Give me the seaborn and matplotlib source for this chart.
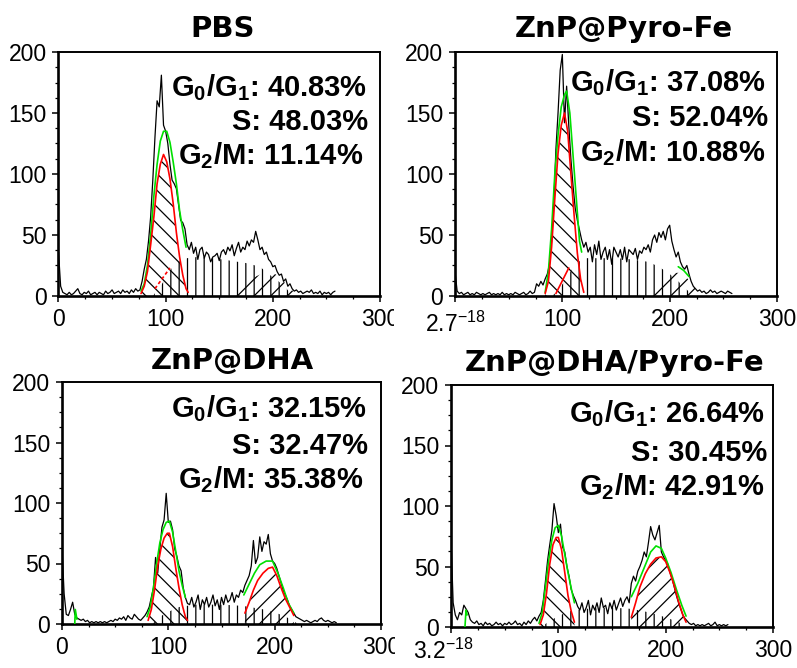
import numpy as np
import pandas as pd
import matplotlib
matplotlib.use("Agg")
import matplotlib.pyplot as plt
from matplotlib.ticker import MultipleLocator
from matplotlib.transforms import Bbox
import seaborn as sns

sns.set_theme(style="ticks")
plt.rcParams["font.family"] = ["Liberation Sans", "DejaVu Sans"]
plt.rcParams["mathtext.fontset"] = "custom"
plt.rcParams["mathtext.rm"] = "Liberation Sans"
plt.rcParams["mathtext.it"] = "Liberation Sans:italic"
plt.rcParams["mathtext.bf"] = "Liberation Sans:bold"
plt.rcParams["hatch.linewidth"] = 0.9
plt.rcParams["hatch.color"] = "black"

# ---------------------------------------------------------------- data
channels = np.arange(0, 260, 2)

titles = ["PBS", "ZnP@Pyro-Fe", "ZnP@DHA", "ZnP@DHA/Pyro-Fe"]
g1_pct = ["40.83", "37.08", "32.15", "26.64"]
s_pct = ["48.03", "52.04", "32.47", "30.45"]
g2_pct = ["11.14", "10.88", "35.38", "42.91"]
first_xtick = ["0", r"2.7$^{-18}$", "0", r"3.2$^{-18}$"]

counts_pbs = [
    36, 8, 3, 2, 1, 3, 1, 2, 4, 6,
    2, 1, 3, 2, 4, 1, 2, 3, 1, 3,
    2, 1, 4, 2, 3, 5, 2, 3, 4, 2,
    5, 3, 4, 2, 5, 3, 6, 4, 5, 12,
    22, 30, 45, 65, 95, 130, 160, 155, 181, 140,
    135, 125, 108, 95, 92, 88, 75, 62, 60, 55,
    42, 38, 44, 35, 40, 30, 38, 40, 31, 36,
    34, 28, 32, 33, 35, 29, 36, 38, 34, 40,
    37, 42, 33, 39, 44, 36, 40, 38, 45, 41,
    46, 44, 53, 46, 38, 40, 34, 36, 30, 28,
    24, 25, 20, 17, 18, 12, 14, 8, 10, 6,
    4, 5, 3, 4, 2, 3, 4, 3, 5, 2,
    3, 2, 4, 1, 3, 2, 3, 1, 3, 4,
]
counts_pyro = [
    20, 4, 2, 3, 1, 2, 3, 1, 2, 1,
    3, 2, 1, 2, 1, 2, 3, 1, 2, 1,
    2, 1, 3, 1, 2, 1, 2, 1, 3, 2,
    1, 2, 3, 1, 2, 4, 2, 3, 10, 8,
    12, 9, 14, 18, 26, 45, 75, 120, 150, 185,
    198, 142, 172, 140, 112, 90, 72, 62, 54, 46,
    40, 44, 36, 40, 28, 42, 34, 45, 30, 36,
    40, 30, 38, 26, 40, 36, 32, 38, 30, 40,
    28, 38, 36, 34, 39, 30, 37, 35, 40, 38,
    42, 36, 46, 50, 44, 52, 48, 53, 46, 55,
    58, 45, 38, 32, 36, 28, 24, 22, 25, 18,
    12, 8, 6, 4, 5, 3, 4, 2, 3, 5,
    3, 4, 2, 3, 4, 3, 2, 4, 3, 2,
]
counts_dha = [
    63, 25, 8, 7, 12, 18, 8, 5, 4, 3,
    4, 2, 3, 1, 2, 1, 2, 1, 2, 1,
    2, 1, 2, 3, 2, 4, 3, 5, 4, 6,
    3, 7, 5, 4, 8, 6, 4, 3, 5, 7,
    10, 14, 22, 30, 55, 42, 62, 80, 86, 108,
    84, 85, 78, 62, 56, 48, 44, 30, 22, 17,
    16, 22, 14, 18, 24, 12, 20, 16, 22, 14,
    18, 24, 15, 20, 12, 22, 16, 24, 18, 20,
    26, 18, 24, 22, 28, 26, 32, 36, 40, 48,
    69, 50, 55, 72, 60, 68, 66, 74, 58, 52,
    50, 46, 40, 34, 28, 24, 20, 15, 12, 9,
    6, 5, 4, 3, 2, 3, 2, 1, 2, 3,
    2, 4, 5, 3, 2, 3, 2, 1, 2, 1,
]
counts_dha_pyro = [
    73, 20, 10, 6, 12, 10, 18, 15, 12, 6,
    4, 3, 5, 2, 3, 1, 4, 2, 3, 1,
    2, 4, 2, 3, 1, 3, 2, 4, 2, 3,
    5, 2, 3, 1, 4, 2, 5, 3, 6, 8,
    5, 9, 12, 22, 38, 55, 68, 80, 102, 92,
    78, 85, 66, 62, 50, 42, 31, 26, 22, 17,
    14, 20, 12, 16, 22, 10, 18, 14, 20, 12,
    24, 16, 18, 11, 20, 15, 22, 14, 19, 24,
    17, 22, 25, 20, 36, 42, 38, 46, 50, 55,
    62, 58, 70, 83, 76, 72, 78, 84, 62, 58,
    55, 52, 45, 40, 33, 26, 20, 15, 10, 7,
    5, 3, 2, 3, 1, 2, 1, 2, 1, 2,
    3, 1, 2, 4, 1, 2, 1, 2, 1, 2,
]

# G0/G1 component (red) and total fit over the G1 peak (green)
g1_x = [
    [77, 80, 83, 86, 89, 92, 95, 98, 101, 104, 107, 110, 113, 116, 119, 121],
    [84, 87, 90, 93, 96, 99, 102, 105, 108, 111, 114, 117, 120],
    [81, 84, 87, 90, 93, 96, 99, 101, 104, 107, 110, 113, 116, 118],
    [83, 86, 89, 92, 95, 98, 100, 103, 106, 109, 112, 115],
]
g1_y = [
    [2, 8, 20, 42, 65, 92, 108, 116, 110, 96, 76, 52, 32, 17, 6, 3],
    [2, 12, 40, 80, 117, 140, 150, 135, 100, 66, 35, 14, 3],
    [3, 12, 28, 48, 62, 71, 75, 75, 64, 46, 30, 16, 6, 3],
    [2, 10, 28, 52, 68, 74, 74, 64, 45, 26, 13, 4],
]
fit1_x = [
    [77, 80, 83, 86, 89, 92, 95, 98, 101, 104, 107, 110, 113, 116, 119],
    [84, 87, 90, 93, 96, 99, 102, 104, 107, 110, 113, 116, 118],
    [80, 83, 86, 89, 92, 95, 98, 101, 104, 107, 110, 113, 116],
    [82, 85, 88, 91, 94, 97, 100, 103, 106, 109, 112, 115],
]
fit1_y = [
    [4, 10, 25, 50, 82, 108, 127, 135, 135, 126, 110, 92, 70, 54, 40],
    [3, 20, 55, 100, 132, 155, 165, 168, 150, 115, 80, 45, 36],
    [6, 14, 30, 50, 67, 78, 84, 85, 76, 60, 44, 32, 22],
    [3, 12, 33, 55, 72, 82, 84, 75, 60, 45, 32, 20],
]

# S-phase component
s_x = [
    [88, 96, 105, 112, 120, 130, 145, 160, 175, 188, 196, 204, 212, 218],
    [90, 96, 104, 112, 120, 135, 150, 165, 180, 190, 200, 208, 215, 222],
    [85, 92, 100, 110, 125, 150, 170, 190, 205, 215, 222],
    [84, 92, 100, 110, 125, 150, 168, 185, 200, 212, 220],
]
s_y = [
    [0, 9, 22, 28, 31, 32, 31, 29, 27, 24, 18, 13, 7, 0],
    [0, 4, 15, 26, 31, 31, 31, 30, 28, 24, 18, 12, 6, 0],
    [0, 6, 10, 14, 16, 16, 15, 12, 8, 4, 0],
    [0, 5, 9, 13, 15, 16, 15, 12, 8, 4, 0],
]
# rising edge of the S-phase fit under the G1 peak
s_edge_x = [[90, 104], [94, 106], [], []]
s_edge_y = [[6, 23], [2, 23], [], []]

# G2/M component
g2_x = [
    [160, 168, 176, 184, 192, 198, 204, 210, 216, 222],
    [172, 180, 188, 196, 204, 210, 216, 222, 228],
    [172, 176, 180, 184, 189, 194, 198, 202, 206, 210, 214, 218],
    [168, 172, 176, 181, 186, 191, 196, 200, 204, 208, 212, 216, 219],
]
g2_y = [
    [2, 6, 11, 16, 19, 20, 17, 12, 6, 2],
    [1, 4, 9, 15, 19, 19, 15, 8, 2],
    [9, 18, 28, 36, 42, 46, 47, 40, 30, 21, 14, 7],
    [8, 20, 33, 44, 52, 57, 58, 54, 45, 34, 21, 10, 4],
]
# total fit over the G2 peak
fit2_x = [
    [],
    [208, 213, 218],
    [171, 176, 181, 186, 192, 198, 203, 208, 213, 218],
    [168, 174, 180, 186, 191, 196, 200, 205, 210, 215, 219],
]
fit2_y = [
    [],
    [24, 21, 16],
    [24, 33, 42, 49, 52, 52, 42, 30, 17, 9],
    [25, 36, 49, 62, 67, 65, 57, 45, 31, 18, 9],
]
# debris fit near the origin
debris_x = [[], [], [12, 12.5, 14], [13, 14, 15]]
debris_y = [[], [], [0, 12, 4], [0, 14, 10]]

counts = [counts_pbs, counts_pyro, counts_dha, counts_dha_pyro]

# ---------------------------------------------------------------- layout (pixels)
W, H = 797, 668
boxes = [(58.5, 52, 380, 296), (455, 52, 777, 296),
         (62, 382, 381, 624), (451, 385, 773, 627)]
title_pos = [(223, 37), (624, 37), (232, 369), (615, 371)]
label_pos = [
    [(367, 96), (368, 130), (363, 164)],
    [(766, 91), (768, 126), (765, 161)],
    [(367, 417), (368, 454), (363, 488)],
    [(765, 422), (767, 461), (764, 495)],
]
origin_label_offset = [None, (0, -16), None, (-8, -12)]
draw_g2_line = [False, False, True, True]
edge_style = ["--", "-", "-", "-"]
column_clip = [394, None, 395, None]

RED = "#ff0000"
GREEN = "#00e000"
TICK_SIZE = 16.5

fig = plt.figure(figsize=(W / 100, H / 100), dpi=100)
fig.patch.set_facecolor("white")

axes = []
for i in range(4):
    l, t, r, b = boxes[i]
    ax = fig.add_axes([l / W, 1 - b / H, (r - l) / W, (b - t) / H])
    ax.set_facecolor("white")
    axes.append(ax)

    # hatched model components
    ax.fill_between(s_x[i], s_y[i], 0, facecolor="none", edgecolor="black",
                    linewidth=0, hatch="||", zorder=1)
    ax.fill_between(g2_x[i], g2_y[i], 0, facecolor="none", edgecolor="black",
                    linewidth=0, hatch="//", zorder=1)
    ax.fill_between(g1_x[i], g1_y[i], 0, facecolor="none", edgecolor="black",
                    linewidth=0, hatch="\\\\", zorder=1)

    # DNA content histogram
    hist = pd.DataFrame({"channel": channels, "count": counts[i]})
    sns.lineplot(data=hist, x="channel", y="count", color="black",
                 linewidth=0.9, ax=ax, zorder=3)

    # fitted curves
    sns.lineplot(x=fit1_x[i], y=fit1_y[i], color=GREEN, linewidth=1.2, ax=ax, zorder=4)
    sns.lineplot(x=g1_x[i], y=g1_y[i], color=RED, linewidth=1.2, ax=ax, zorder=5)
    if s_edge_x[i]:
        if edge_style[i] == "--":
            ax.plot(s_edge_x[i], s_edge_y[i], color=RED, linewidth=1.2,
                    linestyle="--", dashes=(2, 1.5), zorder=5)
        else:
            ax.plot(s_edge_x[i], s_edge_y[i], color=RED, linewidth=1.2, zorder=5)
    if fit2_x[i]:
        sns.lineplot(x=fit2_x[i], y=fit2_y[i], color=GREEN, linewidth=1.2, ax=ax, zorder=4)
    if draw_g2_line[i]:
        sns.lineplot(x=g2_x[i], y=g2_y[i], color=RED, linewidth=1.2, ax=ax, zorder=5)
    if debris_x[i]:
        sns.lineplot(x=debris_x[i], y=debris_y[i], color=GREEN, linewidth=1.2, ax=ax, zorder=4)

    ax.set_xlim(0, 300)
    ax.set_ylim(0, 200)
    ax.set_xlabel("")
    ax.set_ylabel("")
    zero_label = first_xtick[i] if origin_label_offset[i] is None else ""
    ax.set_xticks([0, 100, 200, 300], labels=[zero_label, "100", "200", "300"])
    ax.set_yticks([0, 50, 100, 150, 200])
    ax.xaxis.set_minor_locator(MultipleLocator(25))
    ax.yaxis.set_minor_locator(MultipleLocator(12.5))
    ax.tick_params(which="major", direction="out", length=4.5, width=1.1,
                   color="black", labelcolor="black", labelsize=TICK_SIZE, pad=4)
    ax.tick_params(which="minor", direction="out", length=2.5, width=0.9, color="black")
    for side, lw in (("left", 1.9), ("bottom", 1.9), ("top", 1.4), ("right", 1.4)):
        ax.spines[side].set_visible(True)
        ax.spines[side].set_color("black")
        ax.spines[side].set_linewidth(lw)

    # origin label written as a tiny exponent, set lower than the others
    if origin_label_offset[i] is not None:
        ax.annotate(first_xtick[i], xy=(0, 0), xycoords=("data", "axes fraction"),
                    xytext=origin_label_offset[i], textcoords="offset pixels",
                    ha="center", va="top", fontsize=TICK_SIZE, color="black",
                    annotation_clip=False)

    tx, ty = title_pos[i]
    fig.text(tx / W, 1 - ty / H, titles[i], ha="center", va="baseline",
             fontsize=21, fontweight="bold", color="black", family="DejaVu Sans")

    lines = [r"$\mathbf{G_0/G_1}$: " + g1_pct[i] + "%",
             "S: " + s_pct[i] + "%",
             r"$\mathbf{G_2/M}$: " + g2_pct[i] + "%"]
    for (lx, ly), txt in zip(label_pos[i], lines):
        fig.text(lx / W, 1 - ly / H, txt, ha="right", va="baseline",
                 fontsize=21, fontweight="bold", color="black")

# the right-most x label of the left column is cut at the column edge
fig.canvas.draw()
for ax, edge in zip(axes, column_clip):
    if edge is None:
        continue
    clip = Bbox.from_extents(0, 0, edge, H)
    for lab in ax.get_xticklabels():
        lab.set_clip_box(clip)
        lab.set_clip_on(True)

fig.savefig("out.png", dpi=100, facecolor="white")
